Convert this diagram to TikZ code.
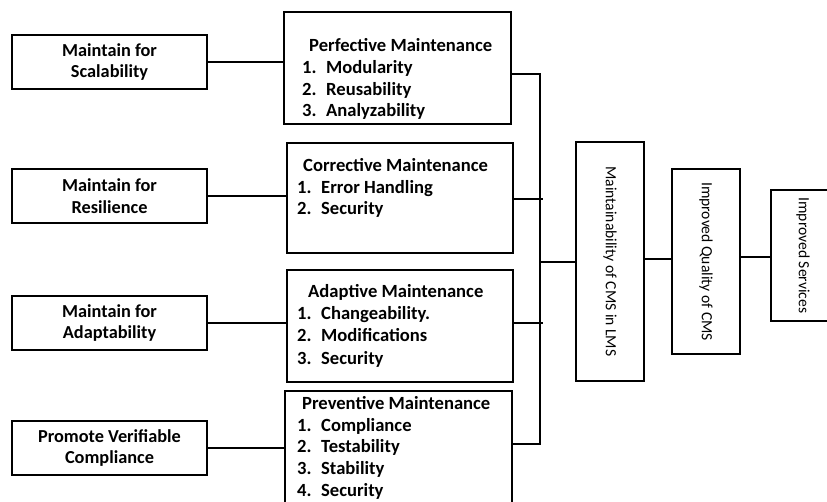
\documentclass[tikz,border=0pt]{standalone}
\usepackage{fontspec}
\setmainfont{Carlito}
\begin{document}
\begin{tikzpicture}[x=1pt,y=-1pt,
  box/.style={draw=black, line width=1.6pt, inner sep=0pt, fill=white},
  lbox/.style={box, minimum width=195pt, minimum height=54pt, align=center,
     font=\fontsize{18.3}{21.5}\selectfont\bfseries},
  mbox/.style={box, minimum width=226pt},
  vbox/.style={box, minimum width=68pt, font=\fontsize{15.6}{18}\selectfont},
  txt/.style={anchor=base west, inner sep=0pt, font=\fontsize{18.6}{21}\selectfont\bfseries},
  conn/.style={line width=1.6pt}]
\useasboundingbox (0,0) rectangle (827,502);

% left boxes
\node[lbox] (l1) at (109.5,62) {Maintain for\\Scalability};
\node[lbox] (l2) at (109.5,196) {Maintain for\\Resilience};
\node[lbox] (l3) at (109.5,323) {Maintain for\\Adaptability};
\node[lbox] (l4) at (109.5,448) {Promote Verifiable\\Compliance};

% middle boxes
\node[mbox, minimum width=227pt, minimum height=112pt] (m1) at (397.5,68) {};
\node[mbox, minimum height=110pt] (m2) at (400,198) {};
\node[mbox, minimum height=112pt] (m3) at (400,326) {};
\node[mbox, minimum width=227pt, minimum height=112pt] (m4) at (398.5,447) {};

\newcommand{\itm}[2]{\makebox[24pt][l]{#1}#2}
% perfective
\node[txt] (m1t) at (309,52) {Perfective Maintenance};
\node[txt] (m1a) at (302,74) {\itm{1.}{Modularity}};
\node[txt] (m1b) at (302,96) {\itm{2.}{Reusability}};
\node[txt] (m1c) at (302,117) {\itm{3.}{Analyzability}};
% corrective
\node[txt] (m2t) at (303,172) {Corrective Maintenance};
\node[txt] (m2a) at (297,194) {\itm{1.}{Error Handling}};
\node[txt] (m2b) at (297,215) {\itm{2.}{Security}};
% adaptive
\node[txt] (m3t) at (308,298) {Adaptive Maintenance};
\node[txt] (m3a) at (297,320) {\itm{1.}{Changeability.}};
\node[txt] (m3b) at (297,342) {\itm{2.}{Modifications}};
\node[txt] (m3c) at (297,364) {\itm{3.}{Security}};
% preventive
\node[txt] (m4t) at (302,409) {Preventive Maintenance};
\node[txt] (m4a) at (297,431) {\itm{1.}{Compliance}};
\node[txt] (m4b) at (297,452) {\itm{2.}{Testability}};
\node[txt] (m4c) at (297,474) {\itm{3.}{Stability}};
\node[txt] (m4d) at (297,496) {\itm{4.}{Security}};

% right boxes
\node[vbox, minimum height=239pt] (r1) at (610,261.5) {\rotatebox{-90}{Maintainability of CMS in LMS}};
\node[vbox, minimum height=185pt] (r2) at (706,261.5) {\rotatebox{-90}{Improved Quality of CMS}};
\node[vbox, minimum width=64pt, minimum height=131pt] (r3) at (803,255.5) {\rotatebox{-90}{Improved Services}};

% connectors left -> middle
\draw[conn] (l1.east) -- (l1.east -| m1.west);
\draw[conn] (l2.east) -- (l2.east -| m2.west);
\draw[conn] (l3.east) -- (l3.east -| m3.west);
\draw[conn] (l4.east) -- (l4.east -| m4.west);

% bus
\coordinate (b1) at (540,74);
\coordinate (b2) at (543,199);
\coordinate (b3) at (543,323);
\coordinate (b4) at (540,444);
\coordinate (bm) at (540,262);
\draw[conn] (m1.east |- b1) -- (b1) -- (b4) -- (m4.east |- b4);
\draw[conn] (m2.east |- b2) -- (b2);
\draw[conn] (m3.east |- b3) -- (b3);
\draw[conn] (bm) -- (r1.west |- bm);
\coordinate (q1) at (0,259);
\draw[conn] (r1.east |- q1) -- (r2.west |- q1);
\coordinate (q2) at (0,257);
\draw[conn] (r2.east |- q2) -- (r3.west |- q2);
\end{tikzpicture}
\end{document}
